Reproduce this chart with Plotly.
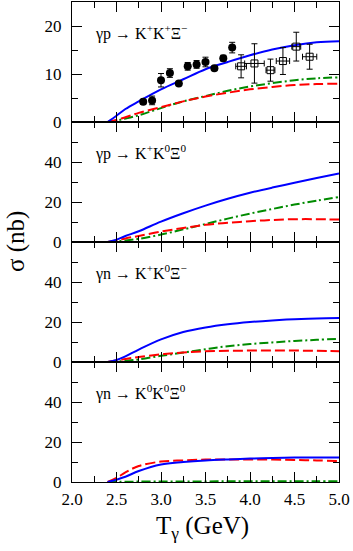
import plotly.graph_objects as go
from plotly.subplots import make_subplots

# ---- data ----
T_grid = [2.40, 2.50, 2.60, 2.75, 3.00, 3.25, 3.50, 3.75, 4.00, 4.25, 4.50, 4.75, 5.00]

p1_blue  = [0, 1.3, 2.7, 4.3, 6.8, 8.9, 11.0, 12.5, 13.9, 15.1, 16.0, 16.6, 16.8]
p1_red   = [0, 0.4, 1.0, 1.9, 3.1, 4.3, 5.3, 6.1, 6.8, 7.3, 7.7, 7.9, 8.0]
p1_green = [0, 0.3, 0.7, 1.4, 2.9, 4.3, 5.4, 6.5, 7.4, 8.1, 8.7, 9.1, 9.3]

p2_blue  = [0, 1.2, 3.0, 5.4, 10.2, 14.4, 18.2, 21.6, 24.6, 27.2, 29.6, 32.0, 34.3]
p2_red   = [0, 0.8, 1.8, 3.0, 5.2, 7.0, 8.6, 9.6, 10.4, 11.0, 11.4, 11.4, 11.2]
p2_green = [0, 0.3, 0.8, 1.6, 3.7, 6.3, 9.0, 11.7, 14.2, 16.5, 18.7, 20.7, 22.5]

p3_blue  = [0, 1.0, 2.8, 6.2, 11.3, 15.0, 17.3, 18.9, 20.0, 20.8, 21.4, 21.8, 22.0]
p3_red   = [0, 0.7, 1.5, 2.5, 3.8, 4.8, 5.4, 5.6, 5.7, 5.7, 5.7, 5.6, 5.4]
p3_green = [0, 0.2, 0.6, 1.3, 3.1, 4.7, 6.4, 7.9, 9.0, 9.8, 10.5, 11.1, 11.6]

p4_blue  = [0, 1.2, 2.6, 5.5, 8.8, 10.0, 10.8, 11.3, 11.7, 12.0, 12.2, 12.3, 12.3]
p4_red   = [0, 2.0, 4.8, 8.0, 10.2, 10.8, 11.2, 11.3, 11.3, 11.2, 11.0, 10.8, 10.5]
p4_green = [0, 0.1, 0.15, 0.2, 0.25, 0.3, 0.3, 0.35, 0.35, 0.4, 0.4, 0.4, 0.4]

# filled circles (panel 1)
circ_T   = [2.80, 2.90, 3.00, 3.10, 3.20, 3.30, 3.40, 3.50, 3.60, 3.70, 3.80]
circ_sig = [4.2, 4.5, 8.7, 10.2, 8.0, 11.6, 12.0, 12.5, 11.2, 13.3, 15.5]
circ_err = [0.5, 0.9, 1.4, 0.9, 0.4, 0.8, 0.8, 1.0, 0.4, 0.6, 1.1]
circ_xerr = [0.04] * 11

# open squares (panel 1)
sq_T    = [3.90, 4.05, 4.23, 4.37, 4.52, 4.67]
sq_sig  = [11.6, 12.2, 10.8, 12.7, 15.7, 13.6]
sq_err  = [2.4, 4.1, 2.3, 2.8, 3.0, 2.6]
sq_xerr = [0.06, 0.11, 0.05, 0.075, 0.05, 0.08]

panel_labels = ["γp → K<sup>+</sup>K<sup>+</sup>Ξ<sup>−</sup>",
                "γp → K<sup>+</sup>K<sup>0</sup>Ξ<sup>0</sup>",
                "γn → K<sup>+</sup>K<sup>0</sup>Ξ<sup>−</sup>",
                "γn → K<sup>0</sup>K<sup>0</sup>Ξ<sup>0</sup>"]

x_ticks = [2.0, 2.5, 3.0, 3.5, 4.0, 4.5, 5.0]

# ---- figure ----
W, H = 353, 551
ML, MR, MT, MB = 72, 14, 2, 69
fig = make_subplots(rows=4, cols=1, vertical_spacing=0)

FONT = "Liberation Serif, Times New Roman, serif"
BLUE = "#0000ff"
RED = "#ff0000"
GREEN = "#008b00"

panels = [(p1_blue, p1_red, p1_green), (p2_blue, p2_red, p2_green),
          (p3_blue, p3_red, p3_green), (p4_blue, p4_red, p4_green)]

for i, (b, r, g) in enumerate(panels, start=1):
    fig.add_trace(go.Scatter(x=T_grid, y=g, mode="lines", line=dict(color=GREEN, width=2, dash="9px,3px,2px,3px", shape="spline"), showlegend=False), row=i, col=1)
    fig.add_trace(go.Scatter(x=T_grid, y=r, mode="lines", line=dict(color=RED, width=2, dash="10px,4px", shape="spline"), showlegend=False), row=i, col=1)
    fig.add_trace(go.Scatter(x=T_grid, y=b, mode="lines", line=dict(color=BLUE, width=2, shape="spline"), showlegend=False), row=i, col=1)

fig.add_trace(go.Scatter(x=circ_T, y=circ_sig, mode="markers",
                         marker=dict(symbol="circle", size=8, color="black"),
                         error_y=dict(type="data", array=circ_err, color="black", thickness=1, width=3),
                         error_x=dict(type="data", array=circ_xerr, color="black", thickness=1, width=0),
                         showlegend=False), row=1, col=1)
fig.add_trace(go.Scatter(x=sq_T, y=sq_sig, mode="markers",
                         marker=dict(symbol="square-open", size=7, color="black", line=dict(width=1, color="black")),
                         error_y=dict(type="data", array=sq_err, color="black", thickness=1, width=3),
                         error_x=dict(type="data", array=sq_xerr, color="black", thickness=1, width=3),
                         showlegend=False), row=1, col=1)

tickfont = dict(family=FONT, size=17, color="black")
for i in range(1, 5):
    top = 1 - (i - 1) * 0.25
    fig.update_yaxes(domain=[top - 0.25, top], row=i, col=1)
    fig.update_xaxes(range=[2.0, 5.0], tickvals=x_ticks, ticktext=[f"{v:.1f}" for v in x_ticks],
                     ticks="inside", ticklen=10, tickwidth=1, tickcolor="black",
                     minor=dict(dtick=0.25, tick0=2.0, ticks="inside", ticklen=6, tickwidth=1, tickcolor="black"),
                     showline=True, linecolor="black", linewidth=1, mirror="allticks",
                     showgrid=False, zeroline=False, automargin=False,
                     showticklabels=(i == 4), tickfont=tickfont, ticklabelstandoff=2,
                     row=i, col=1)
    if i == 1:
        yr, yt, ym = [0, 25], [0, 10, 20], [5, 15]
    else:
        yr, yt, ym = [0, 60], [0, 20, 40], [10, 30, 50]
    fig.update_yaxes(range=yr, tickvals=yt, ticktext=[str(v) for v in yt],
                     ticks="inside", ticklen=10, tickwidth=1, tickcolor="black",
                     minor=dict(tickvals=ym, ticks="inside", ticklen=6, tickwidth=1, tickcolor="black"),
                     showline=True, linecolor="black", linewidth=1, mirror="allticks",
                     showgrid=False, zeroline=False, automargin=False,
                     tickfont=tickfont, ticklabelstandoff=6,
                     row=i, col=1)

ann = []
for i, lab in enumerate(panel_labels):
    ann.append(dict(text=lab, xref="paper", yref="paper", x=(93 - ML) / (W - ML - MR),
                    y=0.9375 - 0.25 * i, xanchor="left", yanchor="middle", showarrow=False,
                    font=dict(family=FONT, size=16, color="black")))
ann.append(dict(text="σ (nb)", xref="paper", yref="paper", x=(16 - ML) / (W - ML - MR), y=0.5,
                xanchor="center", yanchor="middle", textangle=-90, showarrow=False,
                font=dict(family=FONT, size=25, color="black")))
ann.append(dict(text="T<sub>γ</sub> (GeV)", xref="paper", yref="paper", x=(202 - ML) / (W - ML - MR),
                y=-0.094, xanchor="center", yanchor="middle", showarrow=False,
                font=dict(family=FONT, size=25, color="black")))

fig.update_layout(width=W, height=H, margin=dict(l=ML, r=MR, t=MT, b=MB, autoexpand=False),
                  paper_bgcolor="white", plot_bgcolor="white", annotations=ann,
                  showlegend=False)

fig.write_html("out.html", config={"displayModeBar": False},
               post_script="document.body.style.margin='0';document.body.style.padding='0';")
